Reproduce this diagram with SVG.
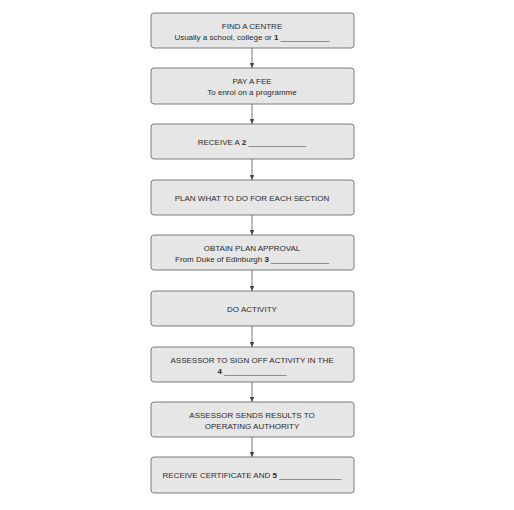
<svg xmlns="http://www.w3.org/2000/svg" width="514" height="510" viewBox="0 0 514 510">
<defs>
<marker id="ah" markerWidth="6" markerHeight="6" refX="5" refY="3" orient="auto" markerUnits="userSpaceOnUse">
<path d="M0,0.8 L5,3 L0,5.2 Z" fill="#444"/>
</marker>
</defs>
<style>
.box{fill:#e6e6e6;stroke:#6e6e6e;stroke-width:0.9}
.t{font-family:"Liberation Sans",Arial,sans-serif;font-size:8px;fill:#2b2b2b;text-anchor:middle}
.b{font-weight:bold}
.c{stroke:#555;stroke-width:0.8;fill:none;marker-end:url(#ah)}
</style>
<rect width="514" height="510" fill="#ffffff"/>
<g id="connectors">
<line class="c" x1="252" y1="48" x2="252" y2="68"/>
<line class="c" x1="252" y1="104" x2="252" y2="124"/>
<line class="c" x1="252" y1="159" x2="252" y2="180"/>
<line class="c" x1="252" y1="215" x2="252" y2="235"/>
<line class="c" x1="252" y1="270" x2="252" y2="291"/>
<line class="c" x1="252" y1="326" x2="252" y2="347"/>
<line class="c" x1="252" y1="382" x2="252" y2="402"/>
<line class="c" x1="252" y1="437" x2="252" y2="457"/>
</g>
<g id="n1">
<rect class="box" x="151" y="13" width="203" height="35" rx="3"/>
<text class="t" x="252" y="28.5">FIND A CENTRE</text>
<text class="t" x="252" y="39.5">Usually a school, college or <tspan class="b">1</tspan> ___________</text>
</g>
<g id="n2">
<rect class="box" x="151" y="68" width="203" height="36" rx="3"/>
<text class="t" x="252" y="83.5">PAY A FEE</text>
<text class="t" x="252" y="94.5">To enrol on a programme</text>
</g>
<g id="n3">
<rect class="box" x="151" y="124" width="203" height="35" rx="3"/>
<text class="t" x="252" y="144.5">RECEIVE A <tspan class="b">2</tspan> _____________</text>
</g>
<g id="n4">
<rect class="box" x="151" y="180" width="203" height="35" rx="3"/>
<text class="t" x="252" y="200.5">PLAN WHAT TO DO FOR EACH SECTION</text>
</g>
<g id="n5">
<rect class="box" x="151" y="235" width="203" height="35" rx="3"/>
<text class="t" x="252" y="250.5">OBTAIN PLAN APPROVAL</text>
<text class="t" x="252" y="261.5">From Duke of Edinburgh <tspan class="b">3</tspan> _____________</text>
</g>
<g id="n6">
<rect class="box" x="151" y="291" width="203" height="35" rx="3"/>
<text class="t" x="252" y="311.5">DO ACTIVITY</text>
</g>
<g id="n7">
<rect class="box" x="151" y="347" width="203" height="35" rx="3"/>
<text class="t" x="252" y="362.5">ASSESSOR TO SIGN OFF ACTIVITY IN THE</text>
<text class="t" x="252" y="373.5"><tspan class="b">4</tspan> ______________</text>
</g>
<g id="n8">
<rect class="box" x="151" y="402" width="203" height="35" rx="3"/>
<text class="t" x="252" y="417.5">ASSESSOR SENDS RESULTS TO</text>
<text class="t" x="252" y="428.5">OPERATING AUTHORITY</text>
</g>
<g id="n9">
<rect class="box" x="151" y="457" width="203" height="36" rx="3"/>
<text class="t" x="252" y="478">RECEIVE CERTIFICATE AND <tspan class="b">5</tspan> ______________</text>
</g>
</svg>
